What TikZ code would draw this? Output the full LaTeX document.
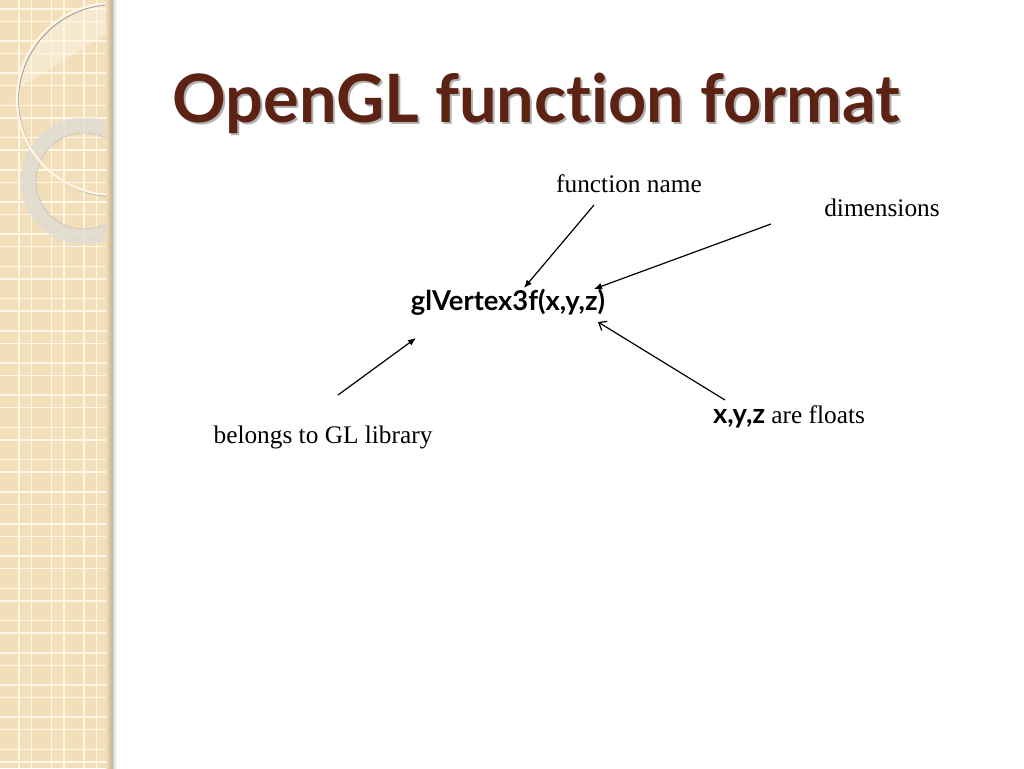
\documentclass[tikz,border=0pt]{standalone}
\usepackage{fontspec}
\setmainfont{Liberation Serif}
\newfontfamily\gill{Lato}[Ligatures=NoCommon]
\usetikzlibrary{arrows.meta}
\definecolor{stripbg}{HTML}{F2DEB8}
\definecolor{gridln}{HTML}{FFF7E4}
\definecolor{titlebrown}{HTML}{5C2213}
\definecolor{ringgrey}{HTML}{E0DCD3}
\tikzset{
  label/.style={font=\fontsize{19}{22}\selectfont, inner sep=0pt},
  code/.style={font=\gill\bfseries\fontsize{20.5}{24}\selectfont, inner sep=0pt},
  fillarrow/.style={-{Latex[length=6pt,width=5pt]}, line width=0.9pt},
  openarrow/.style={-{Straight Barb[length=5pt,width=8pt]}, line width=0.9pt},
}
\begin{document}
\begin{tikzpicture}[x=0.75pt,y=-0.75pt]
\useasboundingbox (0,0) rectangle (1024,768);
\fill[white] (0,0) rectangle (1024,768);
% decorative strip
\fill[stripbg] (0,0) rectangle (113,768);
\begin{scope}
  \clip (0,0) rectangle (113,768);
  \fill[white, opacity=0.35] (113,99) circle (96);
  \begin{scope}
    \clip (113,99) circle (96);
    \fill[stripbg] (0,100) -- (113,30) -- (113,200) -- (0,200) -- cycle;
  \end{scope}
  \foreach \k in {0,...,23} {
    \draw[gridln, line width=1.1pt] (0,{8.8+32.2*\k}) -- (113,{8.8+32.2*\k});
    \draw[gridln, line width=1.1pt] (0,{21.3+32.2*\k}) -- (113,{21.3+32.2*\k});
  }
  \foreach \k in {0,...,3} {
    \draw[gridln, line width=1.1pt] ({19+32.5*\k},0) -- ({19+32.5*\k},768);
    \draw[gridln, line width=1.1pt] ({31.5+32.5*\k},0) -- ({31.5+32.5*\k},768);
  }
  % grey ring
  \draw[ringgrey, opacity=0.85, line width=11pt] (84,181) circle (55.5);
  \draw[black!25, line width=0.4pt] (84,181) circle (48);
  \draw[black!12, line width=0.4pt] (84,181) circle (63);
  % big circle with shadow
  \draw[black!35, line width=0.8pt] (114.5,100.5) circle (96);
  \draw[gridln, line width=1.6pt] (113,99) circle (96);
  % right edge shade
  \shade[left color=stripbg, right color=black!22!stripbg] (106,0) rectangle (113,768);
\end{scope}
\shade[left color=black!15, right color=white] (113,0) rectangle (117,768);

% title
\node[anchor=base west, inner sep=0pt, text=black!30, font=\gill\bfseries\fontsize{50}{56}\selectfont] (titleshadow) at (174,124) {OpenGL function format};
\node[anchor=base west, inner sep=0pt, text=titlebrown, font=\gill\bfseries\fontsize{50}{56}\selectfont] (title) at (172,122) {OpenGL function format};

% nodes
\node[code] (func) at (508,302) {glVertex3f(x,y,z)};
\node[label] (fname) at (629,184) {function name};
\node[label] (dims) at (882,208) {dimensions};
\node[label] (belongs) at (323,437) {belongs to GL library};
\node[label] (floats) at (789,417) {{\gill\bfseries\fontsize{20.5}{24}\selectfont x,y,z} are floats};

% arrow end points
\coordinate (a1s) at (594,205);
\coordinate (a1e) at (524,288);
\coordinate (a2s) at (771,224);
\coordinate (a2e) at (594,289);
\coordinate (a3s) at (338,395);
\coordinate (a3e) at (416,338);
\coordinate (a4s) at (725,400);
\coordinate (a4e) at (598,322);

\draw[fillarrow] (a1s) -- (a1e);
\draw[fillarrow] (a2s) -- (a2e);
\draw[fillarrow] (a3s) -- (a3e);
\draw[openarrow] (a4s) -- (a4e);
\end{tikzpicture}
\end{document}
